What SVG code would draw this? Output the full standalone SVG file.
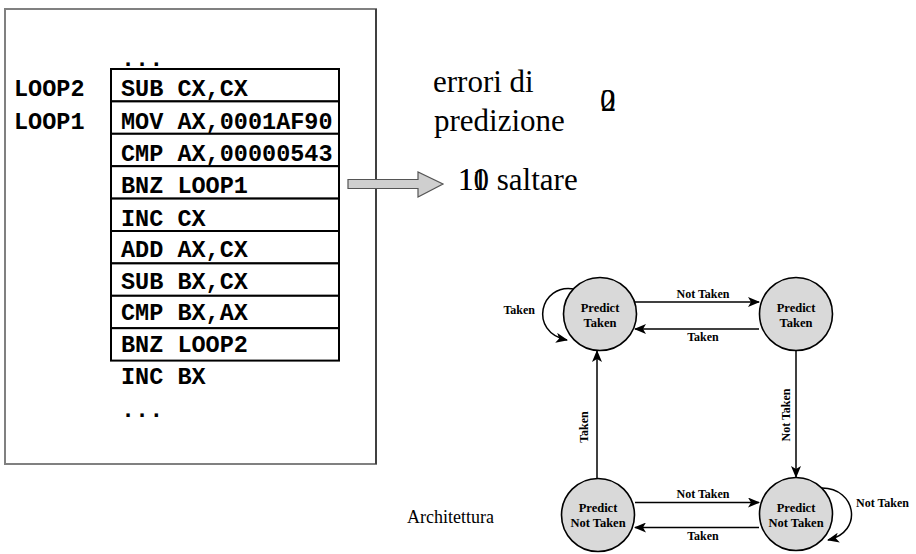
<svg xmlns="http://www.w3.org/2000/svg" width="916" height="554" viewBox="0 0 916 554">
  <style>
    .code { font-family: "Liberation Mono", "Courier New", monospace; font-weight: bold; font-size: 23.5px; fill: #000; }
    .cell { fill: #fff; stroke: #000; stroke-width: 2; }
    .serif { font-family: "Liberation Serif", "Times New Roman", serif; fill: #000; }
    .big { font-size: 31px; }
    .state { fill: #d9d9d9; stroke: #000; stroke-width: 1.6; }
    .slabel { font-family: "Liberation Serif", "Times New Roman", serif; font-weight: bold; font-size: 12.5px; fill: #000; text-anchor: middle; }
    .elabel { font-family: "Liberation Serif", "Times New Roman", serif; font-weight: bold; font-size: 12px; fill: #000; }
    .edge { fill: none; stroke: #000; stroke-width: 1.5; marker-end: url(#head); }
  </style>
  <defs>
    <marker id="head" viewBox="0 0 12 10" refX="11" refY="5" markerWidth="12" markerHeight="10" markerUnits="userSpaceOnUse" orient="auto">
      <path d="M0,0 L12,5 L0,10 L3,5 Z" fill="#000"/>
    </marker>
  </defs>

  <rect width="916" height="554" fill="#fff"/>

  <!-- program listing frame -->
  <g id="frame">
    <rect x="5" y="9" width="371" height="455" fill="none" stroke="#808080" stroke-width="2"/>
    <line x1="376" y1="9" x2="376" y2="464" stroke="#000" stroke-width="1"/>
  </g>

  <!-- instruction listing -->
  <g id="listing">
    <text class="code" x="121" y="66">...</text>
    <g id="row1"><rect class="cell" x="111" y="69" width="228" height="32.4"/><text class="code" x="121" y="96">SUB CX,CX</text></g>
    <g id="row2"><rect class="cell" x="111" y="101.4" width="228" height="32.4"/><text class="code" x="121" y="129">MOV AX,0001AF90</text></g>
    <g id="row3"><rect class="cell" x="111" y="133.8" width="228" height="32.4"/><text class="code" x="121" y="161">CMP AX,00000543</text></g>
    <g id="row4"><rect class="cell" x="111" y="166.2" width="228" height="32.4"/><text class="code" x="121" y="193">BNZ LOOP1</text></g>
    <g id="row5"><rect class="cell" x="111" y="198.6" width="228" height="32.4"/><text class="code" x="121" y="226">INC CX</text></g>
    <g id="row6"><rect class="cell" x="111" y="231" width="228" height="32.4"/><text class="code" x="121" y="257">ADD AX,CX</text></g>
    <g id="row7"><rect class="cell" x="111" y="263.4" width="228" height="32.4"/><text class="code" x="121" y="289">SUB BX,CX</text></g>
    <g id="row8"><rect class="cell" x="111" y="295.8" width="228" height="32.4"/><text class="code" x="121" y="320">CMP BX,AX</text></g>
    <g id="row9"><rect class="cell" x="111" y="328.2" width="228" height="32.4"/><text class="code" x="121" y="352">BNZ LOOP2</text></g>
    <text class="code" x="121" y="384">INC BX</text>
    <text class="code" x="121" y="417">...</text>
    <text class="code" x="14" y="96">LOOP2</text>
    <text class="code" x="14" y="129">LOOP1</text>
  </g>

  <!-- block arrow to the jump count -->
  <g id="block-arrow">
    <path d="M348,179.5 L418,179.5 L418,172 L443,184 L418,197 L418,188.5 L348,188.5 Z" fill="#cfcfcf" stroke="#555" stroke-width="1.2"/>
  </g>

  <!-- counters (overprinted digits) -->
  <g id="counters">
    <text class="serif big" x="433" y="92">errori di</text>
    <text class="serif big" x="434" y="131">predizione</text>
    <text class="serif big" x="600" y="111">0</text>
    <text class="serif big" x="600.8" y="111">2</text>
    <text class="serif big" x="458" y="190">10 saltare</text>
    <text class="serif big" x="458" y="190">11</text>
  </g>

  <text class="serif" x="407" y="523" font-size="18">Architettura</text>

  <!-- predictor state machine: connectors -->
  <g id="connectors">
    <path class="edge" d="M634,302 L759,302"/>
    <path class="edge" d="M759,329 L635,329"/>
    <path class="edge" d="M635,502.5 L759,502.5"/>
    <path class="edge" d="M759,527.5 L635,527.5"/>
    <path class="edge" d="M597,478 L597,351"/>
    <path class="edge" d="M796,351 L796,477"/>
    <path class="edge" d="M574,289 C540,283 528,332 567,340"/>
    <path class="edge" d="M822,488 C856,488 864,532 828,540"/>
    <text class="elabel" x="703" y="298" text-anchor="middle">Not Taken</text>
    <text class="elabel" x="703" y="341" text-anchor="middle">Taken</text>
    <text class="elabel" x="703" y="498" text-anchor="middle">Not Taken</text>
    <text class="elabel" x="703" y="540" text-anchor="middle">Taken</text>
    <text class="elabel" x="535" y="314" text-anchor="end">Taken</text>
    <text class="elabel" x="856" y="507">Not Taken</text>
    <text class="elabel" transform="translate(588,427) rotate(-90)" text-anchor="middle">Taken</text>
    <text class="elabel" transform="translate(790,415) rotate(-90)" text-anchor="middle">Not Taken</text>
  </g>

  <!-- predictor states -->
  <g id="state-tl">
    <circle class="state" cx="600" cy="314" r="36.5"/>
    <text class="slabel" x="600" y="312">Predict</text>
    <text class="slabel" x="600" y="327">Taken</text>
  </g>
  <g id="state-tr">
    <circle class="state" cx="796" cy="314" r="36.5"/>
    <text class="slabel" x="796" y="312">Predict</text>
    <text class="slabel" x="796" y="327">Taken</text>
  </g>
  <g id="state-bl">
    <circle class="state" cx="598" cy="515" r="36.5"/>
    <text class="slabel" x="598" y="512">Predict</text>
    <text class="slabel" x="598" y="527">Not Taken</text>
  </g>
  <g id="state-br">
    <circle class="state" cx="796" cy="514" r="36.5"/>
    <text class="slabel" x="796" y="512">Predict</text>
    <text class="slabel" x="796" y="527">Not Taken</text>
  </g>
</svg>
